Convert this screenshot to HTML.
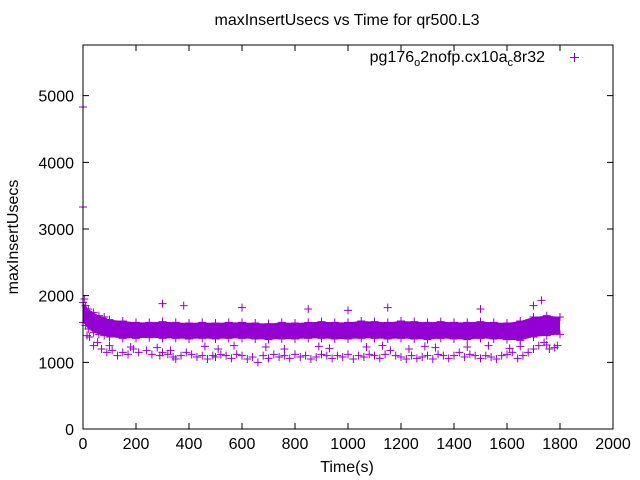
<!DOCTYPE html>
<html><head><meta charset="utf-8"><style>
body{margin:0;background:#fff}
svg{display:block;font-family:"Liberation Sans",sans-serif}
</style></head><body>
<svg id="c" width="640" height="480" xmlns="http://www.w3.org/2000/svg">
<rect width="640" height="480" fill="#fff"/>
<text x="347" y="25" font-size="16" text-anchor="middle">maxInsertUsecs vs Time for qr500.L3</text>
<text x="18" y="237" font-size="16" text-anchor="middle" transform="rotate(-90 18 237)">maxInsertUsecs</text>
<text x="347" y="472" font-size="16" text-anchor="middle">Time(s)</text>
<g>
<text x="545" y="62" font-size="16" text-anchor="end">pg176<tspan font-size="11" dy="4">o</tspan><tspan dy="-4">2nofp.cx10a</tspan><tspan font-size="11" dy="4">c</tspan><tspan dy="-4">8r32</tspan></text>
<path d="M570 57.5h9M574.5 53v9" stroke="#9400d3" stroke-width="1"/>
</g>
<g id="plot"></g>
<g id="axes"></g>
</svg>
<script>
const xTicks=[0,200,400,600,800,1000,1200,1400,1600,1800,2000];
const yTicks=[0,1000,2000,3000,4000,5000];
const bandT=[0,10,20,40,60,80,100,150,200,250,300,350,400,450,500,550,600,650,700,750,800,850,900,950,1000,1050,1100,1150,1200,1250,1300,1350,1400,1450,1500,1550,1600,1650,1700,1750,1800];
const bandHi=[1900,1850,1800,1750,1700,1680,1640,1620,1600,1600,1610,1600,1590,1600,1590,1600,1600,1590,1580,1600,1590,1600,1610,1600,1600,1620,1610,1600,1620,1610,1600,1610,1600,1600,1610,1600,1590,1620,1680,1700,1680];
const bandLo=[1600,1550,1500,1450,1420,1400,1380,1360,1360,1370,1360,1360,1350,1360,1350,1360,1360,1350,1340,1350,1350,1360,1360,1350,1350,1360,1360,1350,1360,1350,1340,1360,1350,1340,1360,1350,1340,1330,1380,1400,1420];
const ptT=[0,0,5,15,25,40,55,70,90,110,130,150,170,190,210,240,260,290,300,320,340,350,370,390,410,430,450,470,490,500,520,540,560,580,600,620,640,660,680,700,720,740,760,780,800,820,840,860,880,900,920,940,960,980,1000,1020,1040,1060,1080,1100,1120,1140,1160,1180,1200,1220,1240,1260,1280,1300,1320,1340,1360,1380,1400,1420,1440,1460,1480,1500,1520,1540,1560,1580,1600,1620,1640,1660,1680,1700,1720,1730,1740,1760,1780,1790,300,380,600,850,1000,1150,1500,1700,100,180,280,330,460,510,570,690,760,890,930,1070,1130,1230,1290,1330,1450,1530,1610,1650,1750];
const ptV=[4830,3330,1950,1400,1380,1250,1300,1200,1150,1180,1100,1150,1120,1200,1150,1180,1120,1100,1150,1120,1080,1050,1100,1150,1120,1080,1100,1050,1100,1080,1120,1100,1060,1120,1100,1050,1080,1000,1100,1060,1120,1080,1100,1060,1120,1080,1100,1050,1080,1120,1100,1060,1100,1080,1120,1050,1100,1080,1120,1100,1060,1120,1180,1100,1080,1050,1100,1060,1080,1100,1050,1120,1100,1060,1100,1150,1080,1120,1100,1060,1100,1080,1050,1100,1120,1150,1060,1100,1150,1200,1250,1930,1300,1200,1220,1250,1880,1850,1820,1800,1780,1820,1800,1850,1250,1230,1220,1180,1240,1200,1250,1230,1200,1240,1210,1230,1250,1200,1240,1220,1230,1250,1210,1240,1260];
const X0=83,X1=613,Y0=429,YT=45,XMAX=2000,YMAX=5760;
const sx=t=>X0+t/XMAX*(X1-X0), sy=v=>Y0-v/YMAX*(Y0-YT);
const NS="http://www.w3.org/2000/svg";
const plot=document.getElementById('plot'),axes=document.getElementById('axes');
function mk(tag,attrs,parent){const e=document.createElementNS(NS,tag);for(const k in attrs)e.setAttribute(k,attrs[k]);parent.appendChild(e);return e;}
let pts=bandT.map((t,i)=>sx(t)+','+sy(bandHi[i]));
pts=pts.concat(bandT.map((t,i)=>sx(t)+','+sy(bandLo[i])).reverse());
const band=mk('polygon',{points:pts.join(' '),fill:'#9400d3'},plot);


bandT.forEach((t,i)=>{[bandHi[i],bandLo[i]].forEach(v=>{
 const x=sx(t),y=sy(v);
 const p=mk('path',{d:`M${x-4} ${y}h8M${x} ${y-4}v8`,stroke:'#9400d3','stroke-width':1},plot);
 
 
});});
ptT.forEach((t,i)=>{
 const x=sx(t),y=sy(ptV[i]);
 const p=mk('path',{d:`M${x-4} ${y}h8M${x} ${y-4}v8`,stroke:'#9400d3','stroke-width':1},plot);
 
 
});
const fr=mk('rect',{x:X0,y:YT,width:X1-X0,height:Y0-YT,fill:'none',stroke:'#000','stroke-width':1},axes);


xTicks.forEach(t=>{const x=sx(t);
 mk('path',{d:`M${x} ${Y0}v-6M${x} ${YT}v6`,stroke:'#000'},axes);
 const l=mk('text',{x:x,y:Y0+20,'font-size':16,'text-anchor':'middle'},axes);l.textContent=t;
 
 
});
yTicks.forEach(v=>{const y=sy(v);
 mk('path',{d:`M${X0} ${y}h6M${X1} ${y}h-6`,stroke:'#000'},axes);
 const l=mk('text',{x:X0-9,y:y+6,'font-size':16,'text-anchor':'end'},axes);l.textContent=v;
 
 
});
</script>
</body></html>
